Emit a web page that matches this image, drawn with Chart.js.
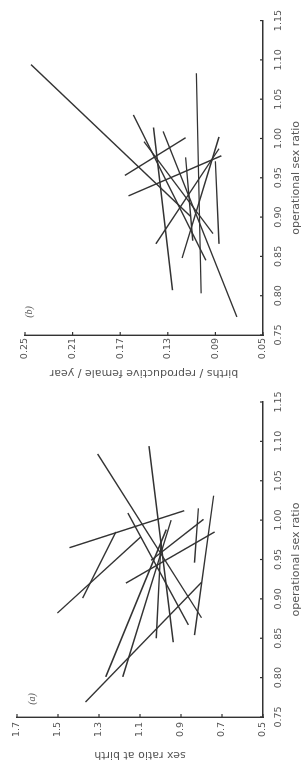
<!DOCTYPE html>
<html>
<head>
<meta charset="utf-8">
<script src="https://cdn.jsdelivr.net/npm/chart.js@4.4.0/dist/chart.umd.min.js"></script>
<style>
  html, body { margin: 0; padding: 0; background: #fff; }
  body { width: 303px; height: 762px; position: relative; overflow: hidden; }
  .panel { position: absolute; left: 0; top: 0; transform-origin: 0 0; }
  /* the printed figure is turned a quarter turn, so each chart is drawn upright and rotated */
  #wrapB { width: 380px; height: 303px; transform: translate(0, 380px) rotate(-90deg); }
  #wrapA { width: 382px; height: 303px; transform: translate(0, 762px) rotate(-90deg); }
</style>
</head>
<body>
<div class="panel" id="wrapB"><canvas id="chartB" width="380" height="303"></canvas></div>
<div class="panel" id="wrapA"><canvas id="chartA" width="382" height="303"></canvas></div>
<script>
  // ---- tick labels ----
  const osrTicks = [0.75, 0.80, 0.85, 0.90, 0.95, 1.00, 1.05, 1.10, 1.15];
  const birthTicks = [0.05, 0.09, 0.13, 0.17, 0.21, 0.25];
  const sexRatioTicks = [0.5, 0.7, 0.9, 1.1, 1.3, 1.5, 1.7];

  // ---- panel (b): births / reproductive female / year ----
  // every segment goes from (osrFrom, from) to (osrTo, to)
  const osrFromB    = [1.094, 1.083, 1.030, 1.014, 1.009, 0.996, 0.953, 1.002, 0.987, 0.978, 0.976, 0.971];
  const osrToB      = [0.901, 0.803, 0.845, 0.807, 0.773, 0.879, 1.001, 0.848, 0.866, 0.927, 0.870, 0.866];
  const birthsFromB = [0.245, 0.106, 0.159, 0.142, 0.134, 0.150, 0.166, 0.087, 0.087, 0.085, 0.115, 0.090];
  const birthsToB   = [0.111, 0.102, 0.098, 0.126, 0.072, 0.092, 0.115, 0.118, 0.140, 0.163, 0.109, 0.087];

  // ---- panel (a): sex ratio at birth ----
  const osrFromA = [0.965, 1.015, 1.031, 1.084, 1.094, 1.009, 0.882, 0.985, 0.985, 1.001, 0.801, 0.801, 0.769, 0.850];
  const osrToA   = [1.012, 0.946, 0.854, 0.876, 0.845, 0.867, 0.979, 0.901, 0.920, 0.949, 0.988, 1.000, 0.921, 0.975];
  const sexFromA = [1.444, 0.815, 0.741, 1.307, 1.056, 1.159, 1.503, 1.218, 0.736, 0.790, 1.267, 1.184, 1.366, 1.021];
  const sexToA   = [0.884, 0.834, 0.834, 0.800, 0.938, 0.864, 1.095, 1.380, 1.169, 1.046, 0.972, 0.948, 0.800, 0.997];

  const inkColor = '#333';
  const textColor = '#555';

  function buildSegments(xFrom, xTo, yFrom, yTo) {
    return xFrom.map((x, i) => ({
      data: [{ x: x, y: yFrom[i] }, { x: xTo[i], y: yTo[i] }],
      borderColor: inkColor,
      borderWidth: 1.4,
      pointRadius: 0,
      fill: false,
      tension: 0
    }));
  }

  // small inward tick marks + the panel letter
  const figureTouches = {
    id: 'figureTouches',
    afterDraw(chart, args, opts) {
      const ctx = chart.ctx;
      const area = chart.chartArea;
      const xs = chart.scales.x, ys = chart.scales.y;
      ctx.save();
      ctx.strokeStyle = inkColor;
      ctx.lineWidth = 1.2;
      xs.ticks.forEach(t => {
        const px = xs.getPixelForValue(t.value);
        ctx.beginPath(); ctx.moveTo(px, area.bottom); ctx.lineTo(px, area.bottom - 3); ctx.stroke();
      });
      ys.ticks.forEach(t => {
        const py = ys.getPixelForValue(t.value);
        ctx.beginPath(); ctx.moveTo(area.left, py); ctx.lineTo(area.left + 3, py); ctx.stroke();
      });
      ctx.fillStyle = textColor;
      ctx.font = 'italic 10px "Liberation Serif"';
      ctx.textAlign = 'center';
      ctx.textBaseline = 'middle';
      ctx.fillText(opts.letter, area.left + opts.dx, area.top + opts.dy);
      ctx.restore();
    }
  };

  function makeChart(canvasId, cfg) {
    const ctx = document.getElementById(canvasId).getContext('2d');
    return new Chart(ctx, {
      type: 'line',
      data: { datasets: cfg.datasets },
      plugins: [figureTouches],
      options: {
        responsive: false,
        animation: false,
        devicePixelRatio: 1,
        layout: { padding: cfg.padding },
        plugins: {
          legend: { display: false },
          tooltip: { enabled: false },
          figureTouches: cfg.letter
        },
        scales: {
          x: {
            type: 'linear',
            min: 0.75, max: 1.15,
            afterBuildTicks: s => { s.ticks = osrTicks.map(v => ({ value: v })); },
            afterFit: s => { s.height = 303 - cfg.plotBottom; },
            grid: { display: false, drawTicks: false },
            border: { display: true, color: inkColor, width: 1.4 },
            ticks: {
              autoSkip: false, maxRotation: 0, padding: 10, color: textColor,
              font: { family: 'DejaVu Sans', size: 9.5 },
              callback: v => v.toFixed(2)
            },
            title: {
              display: true, text: 'operational sex ratio', color: textColor,
              font: { family: 'DejaVu Sans', size: 11 }, padding: { top: 0, bottom: 0 }
            }
          },
          y: {
            type: 'linear',
            min: cfg.yMin, max: cfg.yMax,
            afterBuildTicks: s => { s.ticks = cfg.yTicks.map(v => ({ value: v })); },
            afterFit: s => { s.width = 45; },
            grid: { display: false, drawTicks: false },
            border: { display: true, color: inkColor, width: 1.4 },
            ticks: {
              autoSkip: false, padding: cfg.yPad, color: textColor,
              font: { family: 'DejaVu Sans', size: 9.5 },
              callback: v => v.toFixed(cfg.yDigits)
            },
            title: {
              display: true, text: cfg.yTitle, color: textColor,
              font: { family: 'DejaVu Sans', size: 11 }, padding: { top: 1, bottom: 0 }
            }
          }
        }
      }
    });
  }

  makeChart('chartB', {
    datasets: buildSegments(osrFromB, osrToB, birthsFromB, birthsToB),
    padding: { left: 0, top: 25, right: 18, bottom: 0 },
    plotBottom: 263,
    yMin: 0.05, yMax: 0.25, yTicks: birthTicks, yDigits: 2, yPad: 3,
    yTitle: 'births / reproductive female / year',
    letter: { letter: '(b)', dx: 23, dy: 4 }
  });

  makeChart('chartA', {
    datasets: buildSegments(osrFromA, osrToA, sexFromA, sexToA),
    padding: { left: 0, top: 17, right: 22, bottom: 0 },
    plotBottom: 263,
    yMin: 0.5, yMax: 1.7, yTicks: sexRatioTicks, yDigits: 1, yPad: 5,
    yTitle: 'sex ratio at birth',
    letter: { letter: '(a)', dx: 18, dy: 15 }
  });
</script>
</body>
</html>
